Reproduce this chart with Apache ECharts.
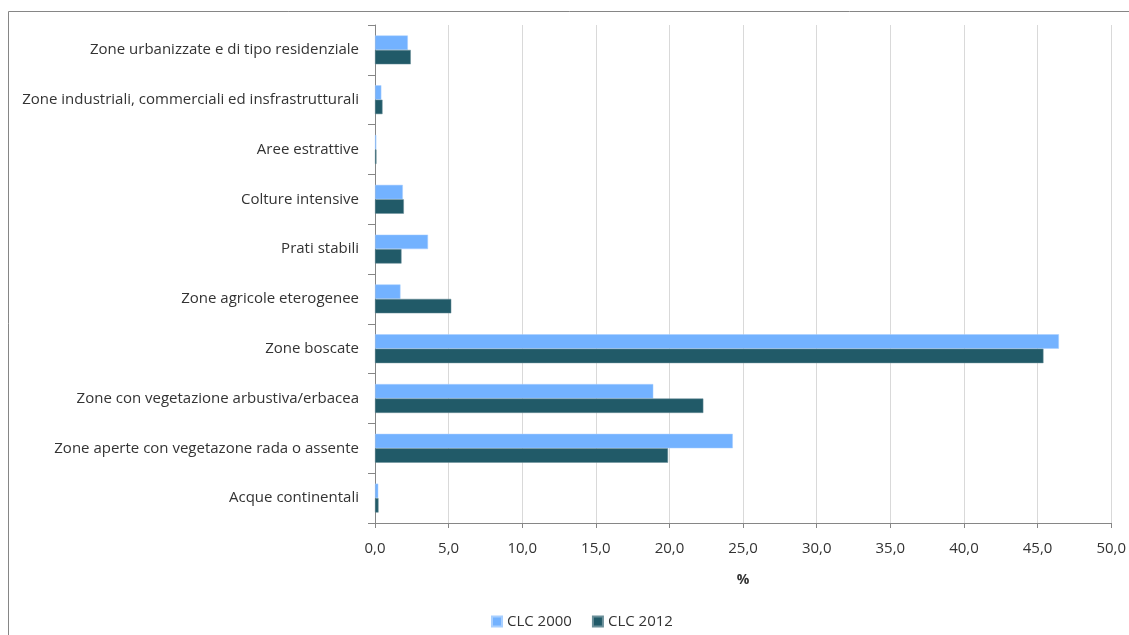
<!DOCTYPE html>
<html>
<head>
<meta charset="utf-8">
<script src="https://cdn.jsdelivr.net/npm/echarts@6/dist/echarts.min.js"></script>
<style>
html,body{margin:0;padding:0;background:#fff;}
#chart{width:1129px;height:635px;}
</style>
</head>
<body>
<div id="chart"></div>
<script>
var categories = [
  "Zone urbanizzate e di tipo residenziale",
  "Zone industriali, commerciali ed insfrastrutturali",
  "Aree estrattive",
  "Colture intensive",
  "Prati stabili",
  "Zone agricole eterogenee",
  "Zone boscate",
  "Zone con vegetazione arbustiva/erbacea",
  "Zone aperte con vegetazone rada o assente",
  "Acque continentali"
];
var clc2000 = [2.23, 0.43, 0.09, 1.89, 3.6, 1.73, 46.45, 18.9, 24.3, 0.22];
var clc2012 = [2.43, 0.51, 0.1, 1.96, 1.8, 5.18, 45.4, 22.3, 19.9, 0.24];
var seriesNames = ["CLC 2000", "CLC 2012"];
var xTicks = {min: 0, max: 50, interval: 5};

var chart = echarts.init(document.getElementById('chart'));
var font = "'Open Sans', 'Noto Sans', sans-serif";
chart.setOption({
  animation: false,
  textStyle: {fontFamily: font},
  graphic: [{
    type: 'rect',
    shape: {x: 8.5, y: 11.5, width: 1200, height: 700},
    style: {fill: 'none', stroke: '#868686', lineWidth: 1}
  }],
  grid: {left: 375, right: 16, top: 25, bottom: 112, containLabel: false},
  legend: {
    bottom: 1,
    left: 486,
    itemWidth: 10, itemHeight: 10,
    itemGap: 20,
    icon: 'rect',
    textStyle: {fontSize: 15, color: '#333333', fontFamily: font},
    data: seriesNames
  },
  xAxis: {
    type: 'value',
    min: xTicks.min, max: xTicks.max, interval: xTicks.interval,
    name: '%',
    nameLocation: 'middle',
    nameGap: 50,
    nameTextStyle: {fontWeight: 'bold', fontSize: 14, color: '#333333'},
    axisLine: {show: true, lineStyle: {color: '#868686', width: 1}},
    axisTick: {show: true, length: 5, lineStyle: {color: '#868686'}},
    axisLabel: {
      fontSize: 15, color: '#333333', margin: 18,
      formatter: function (v) { return v.toFixed(1).replace('.', ','); }
    },
    splitLine: {show: true, lineStyle: {color: '#d9d9d9', width: 1}}
  },
  yAxis: {
    type: 'category',
    inverse: true,
    data: categories,
    axisLine: {show: true, lineStyle: {color: '#868686', width: 1}},
    axisTick: {show: true, length: 7, inside: false, lineStyle: {color: '#868686'}},
    axisLabel: {fontSize: 15, color: '#333333', margin: 16, padding: [3, 0, 0, 0]}
  },
  series: [
    {
      name: seriesNames[0], type: 'bar', data: clc2000,
      barGap: '0%', barCategoryGap: '42%',
      itemStyle: {color: '#73B2FF', borderColor: '#A8CFFF', borderWidth: 0.5}
    },
    {
      name: seriesNames[1], type: 'bar', data: clc2012,
      barGap: '0%', barCategoryGap: '42%',
      itemStyle: {color: '#215A68', borderColor: '#6A8F99', borderWidth: 0.5}
    }
  ]
});
</script>
</body>
</html>
